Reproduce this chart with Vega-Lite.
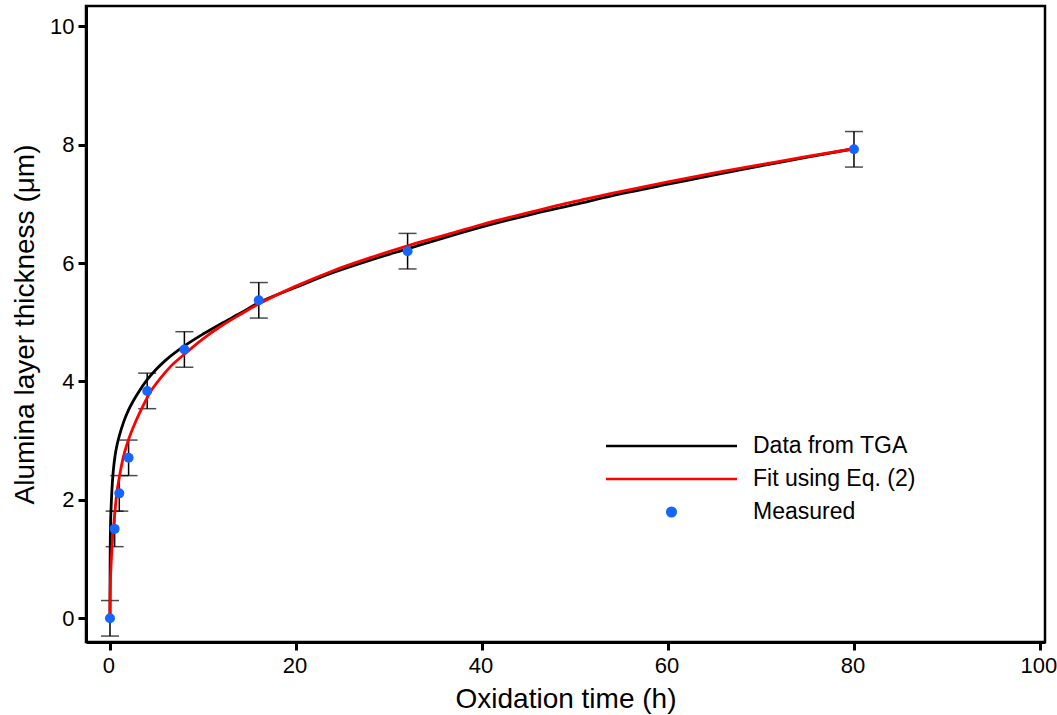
{
  "$schema": "https://vega.github.io/schema/vega-lite/v6.json",
  "width": 959,
  "height": 636,
  "autosize": {"type": "none"},
  "padding": {"left": 86, "top": 6, "right": 12, "bottom": 73},
  "background": "white",
  "config": {
    "font": "Liberation Sans",
    "view": {"stroke": "black", "strokeWidth": 2.5},
    "axis": {
      "domainColor": "black", "domainWidth": 3,
      "tickColor": "black", "tickWidth": 3, "tickSize": 8,
      "labelColor": "black", "labelFontSize": 22, "labelFont": "Liberation Sans",
      "titleColor": "black", "titleFontSize": 28, "titleFont": "Liberation Sans", "titleFontWeight": "normal",
      "grid": false
    }
  },
  "datasets": {
    "curves": [
      {"t": 0, "v": 0, "s": "Data from TGA"},
      {"t": 0.003, "v": 0.4, "s": "Data from TGA"},
      {"t": 0.01, "v": 0.8, "s": "Data from TGA"},
      {"t": 0.02, "v": 1.1, "s": "Data from TGA"},
      {"t": 0.04, "v": 1.4, "s": "Data from TGA"},
      {"t": 0.07, "v": 1.65, "s": "Data from TGA"},
      {"t": 0.1, "v": 1.8, "s": "Data from TGA"},
      {"t": 0.14, "v": 1.95, "s": "Data from TGA"},
      {"t": 0.2, "v": 2.15, "s": "Data from TGA"},
      {"t": 0.36, "v": 2.5, "s": "Data from TGA"},
      {"t": 0.55, "v": 2.75, "s": "Data from TGA"},
      {"t": 0.79, "v": 2.95, "s": "Data from TGA"},
      {"t": 1.0, "v": 3.08, "s": "Data from TGA"},
      {"t": 1.5, "v": 3.33, "s": "Data from TGA"},
      {"t": 2.0, "v": 3.52, "s": "Data from TGA"},
      {"t": 2.5, "v": 3.67, "s": "Data from TGA"},
      {"t": 3.0, "v": 3.8, "s": "Data from TGA"},
      {"t": 4.0, "v": 4.03, "s": "Data from TGA"},
      {"t": 5.0, "v": 4.21, "s": "Data from TGA"},
      {"t": 6.0, "v": 4.36, "s": "Data from TGA"},
      {"t": 8.0, "v": 4.6, "s": "Data from TGA"},
      {"t": 10, "v": 4.8, "s": "Data from TGA"},
      {"t": 12, "v": 4.98, "s": "Data from TGA"},
      {"t": 14, "v": 5.15, "s": "Data from TGA"},
      {"t": 16, "v": 5.33, "s": "Data from TGA"},
      {"t": 20, "v": 5.59, "s": "Data from TGA"},
      {"t": 24, "v": 5.84, "s": "Data from TGA"},
      {"t": 28, "v": 6.05, "s": "Data from TGA"},
      {"t": 32, "v": 6.24, "s": "Data from TGA"},
      {"t": 36, "v": 6.43, "s": "Data from TGA"},
      {"t": 40, "v": 6.61, "s": "Data from TGA"},
      {"t": 45, "v": 6.81, "s": "Data from TGA"},
      {"t": 50, "v": 6.99, "s": "Data from TGA"},
      {"t": 55, "v": 7.17, "s": "Data from TGA"},
      {"t": 60, "v": 7.33, "s": "Data from TGA"},
      {"t": 65, "v": 7.49, "s": "Data from TGA"},
      {"t": 70, "v": 7.64, "s": "Data from TGA"},
      {"t": 75, "v": 7.79, "s": "Data from TGA"},
      {"t": 80, "v": 7.93, "s": "Data from TGA"},
      {"t": 0, "v": 0, "s": "Fit using Eq. (2)"},
      {"t": 0.01, "v": 0.3, "s": "Fit using Eq. (2)"},
      {"t": 0.03, "v": 0.5, "s": "Fit using Eq. (2)"},
      {"t": 0.06, "v": 0.7, "s": "Fit using Eq. (2)"},
      {"t": 0.1, "v": 0.85, "s": "Fit using Eq. (2)"},
      {"t": 0.15, "v": 1.02, "s": "Fit using Eq. (2)"},
      {"t": 0.2, "v": 1.15, "s": "Fit using Eq. (2)"},
      {"t": 0.27, "v": 1.32, "s": "Fit using Eq. (2)"},
      {"t": 0.36, "v": 1.5, "s": "Fit using Eq. (2)"},
      {"t": 0.5, "v": 1.75, "s": "Fit using Eq. (2)"},
      {"t": 0.72, "v": 2.1, "s": "Fit using Eq. (2)"},
      {"t": 1.0, "v": 2.38, "s": "Fit using Eq. (2)"},
      {"t": 1.4, "v": 2.7, "s": "Fit using Eq. (2)"},
      {"t": 2.0, "v": 3.02, "s": "Fit using Eq. (2)"},
      {"t": 2.7, "v": 3.3, "s": "Fit using Eq. (2)"},
      {"t": 3.5, "v": 3.57, "s": "Fit using Eq. (2)"},
      {"t": 4.37, "v": 3.83, "s": "Fit using Eq. (2)"},
      {"t": 5.5, "v": 4.07, "s": "Fit using Eq. (2)"},
      {"t": 6.5, "v": 4.25, "s": "Fit using Eq. (2)"},
      {"t": 8, "v": 4.46, "s": "Fit using Eq. (2)"},
      {"t": 10, "v": 4.72, "s": "Fit using Eq. (2)"},
      {"t": 12, "v": 4.94, "s": "Fit using Eq. (2)"},
      {"t": 14, "v": 5.13, "s": "Fit using Eq. (2)"},
      {"t": 16, "v": 5.31, "s": "Fit using Eq. (2)"},
      {"t": 20, "v": 5.61, "s": "Fit using Eq. (2)"},
      {"t": 24, "v": 5.87, "s": "Fit using Eq. (2)"},
      {"t": 28, "v": 6.09, "s": "Fit using Eq. (2)"},
      {"t": 32, "v": 6.29, "s": "Fit using Eq. (2)"},
      {"t": 36, "v": 6.47, "s": "Fit using Eq. (2)"},
      {"t": 40, "v": 6.65, "s": "Fit using Eq. (2)"},
      {"t": 45, "v": 6.85, "s": "Fit using Eq. (2)"},
      {"t": 50, "v": 7.04, "s": "Fit using Eq. (2)"},
      {"t": 55, "v": 7.21, "s": "Fit using Eq. (2)"},
      {"t": 60, "v": 7.37, "s": "Fit using Eq. (2)"},
      {"t": 65, "v": 7.52, "s": "Fit using Eq. (2)"},
      {"t": 70, "v": 7.66, "s": "Fit using Eq. (2)"},
      {"t": 75, "v": 7.8, "s": "Fit using Eq. (2)"},
      {"t": 80, "v": 7.93, "s": "Fit using Eq. (2)"}
    ],
    "measured": [
      {"t": 0, "v": 0, "lo": -0.3, "hi": 0.3, "s": "Measured"},
      {"t": 0.5, "v": 1.51, "lo": 1.21, "hi": 1.81, "s": "Measured"},
      {"t": 1, "v": 2.11, "lo": 1.81, "hi": 2.41, "s": "Measured"},
      {"t": 2, "v": 2.71, "lo": 2.41, "hi": 3.01, "s": "Measured"},
      {"t": 4, "v": 3.84, "lo": 3.54, "hi": 4.14, "s": "Measured"},
      {"t": 8, "v": 4.54, "lo": 4.24, "hi": 4.84, "s": "Measured"},
      {"t": 16, "v": 5.37, "lo": 5.07, "hi": 5.67, "s": "Measured"},
      {"t": 32, "v": 6.2, "lo": 5.9, "hi": 6.5, "s": "Measured"},
      {"t": 80, "v": 7.92, "lo": 7.62, "hi": 8.22, "s": "Measured"}
    ]
  },
  "layer": [
    {
      "data": {"name": "measured"},
      "mark": {"type": "rule", "color": "black", "strokeWidth": 1.5},
      "encoding": {
        "x": {"field": "t", "type": "quantitative", "scale": {"domain": [-2.58, 100.54], "nice": false, "zero": false},
          "axis": {"title": "Oxidation time (h)", "values": [0, 20, 40, 60, 80, 100], "format": "d", "labelPadding": 5, "labelOffset": -1.5, "titlePadding": 9}},
        "y": {"field": "lo", "type": "quantitative", "scale": {"domain": [-0.4, 10.34], "nice": false, "zero": false},
          "axis": {"title": "Alumina layer thickness (μm)", "values": [0, 2, 4, 6, 8, 10], "format": "d", "labelPadding": 4, "titlePadding": 10}},
        "y2": {"field": "hi"}
      }
    },
    {
      "data": {"name": "measured"},
      "mark": {"type": "tick", "orient": "horizontal", "color": "black", "thickness": 1.5, "size": 18},
      "encoding": {
        "x": {"field": "t", "type": "quantitative"},
        "y": {"field": "lo", "type": "quantitative"}
      }
    },
    {
      "data": {"name": "measured"},
      "mark": {"type": "tick", "orient": "horizontal", "color": "black", "thickness": 1.5, "size": 18},
      "encoding": {
        "x": {"field": "t", "type": "quantitative"},
        "y": {"field": "hi", "type": "quantitative"}
      }
    },
    {
      "data": {"name": "curves"},
      "mark": {"type": "line", "strokeWidth": 2.8, "interpolate": "monotone"},
      "encoding": {
        "x": {"field": "t", "type": "quantitative"},
        "y": {"field": "v", "type": "quantitative"},
        "detail": {"field": "s", "type": "nominal"},
        "color": {
          "field": "s", "type": "nominal",
          "scale": {"domain": ["Data from TGA", "Fit using Eq. (2)", "Measured"], "range": ["black", "#ff0000", "#1565ff"]},
          "legend": {
            "title": null, "orient": "none", "legendX": 518.5, "legendY": 423.5,
            "padding": 0, "rowPadding": 0, "clipHeight": 33,
            "symbolSize": 17161, "symbolStrokeWidth": 2.5, "labelOffset": 14.5, "labelLimit": 0,
            "labelFontSize": 23, "labelColor": "black", "labelFont": "Liberation Sans",
            "encode": {
              "symbols": {
                "update": {
                  "shape": {"signal": "datum.value === 'Measured' ? 'M0.066,0A0.066,0.066,0,1,1,-0.066,0A0.066,0.066,0,1,1,0.066,0Z' : 'M-1,0H1'"},
                  "fill": {"signal": "datum.value === 'Measured' ? '#1565ff' : 'transparent'"},
                  "stroke": {"signal": "datum.value === 'Data from TGA' ? 'black' : (datum.value === 'Measured' ? '#1565ff' : '#ff0000')"},
                  "opacity": {"value": 1}
                }
              }
            }
          }
        }
      }
    },
    {
      "data": {"name": "measured"},
      "mark": {"type": "point", "filled": true, "size": 100, "opacity": 1},
      "encoding": {
        "x": {"field": "t", "type": "quantitative"},
        "y": {"field": "v", "type": "quantitative"},
        "color": {"field": "s", "type": "nominal"}
      }
    }
  ]
}
